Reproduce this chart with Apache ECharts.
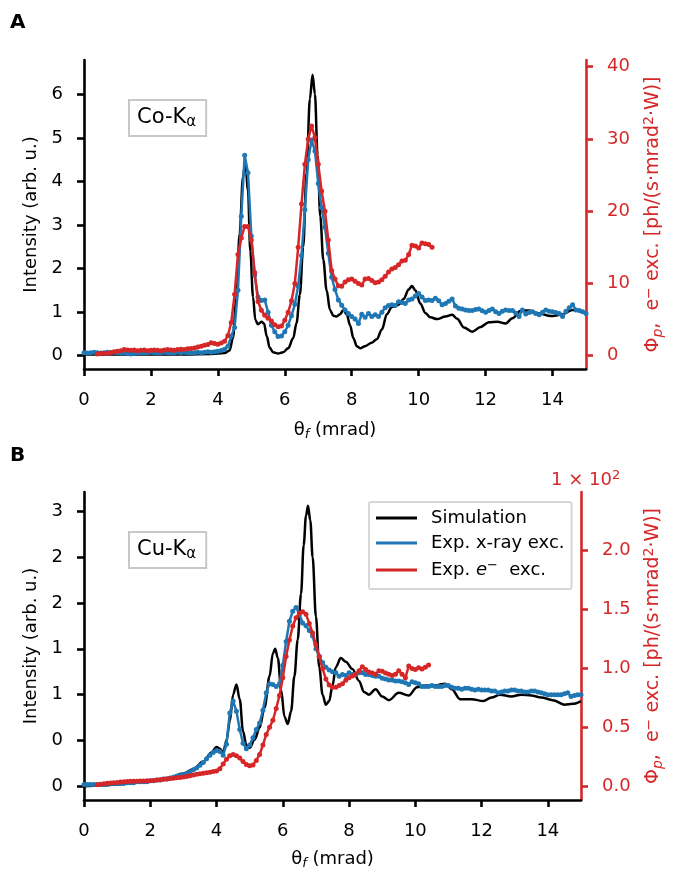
<!DOCTYPE html>
<html>
<head>
<meta charset="utf-8">
<script src="https://cdn.jsdelivr.net/npm/echarts@6/dist/echarts.min.js"></script>
<style>
  html, body { margin: 0; padding: 0; background: #ffffff; }
  #chart { width: 673px; height: 871px; }
</style>
</head>
<body>
<div id="chart"></div>
<script>
// ---------- data ----------
// angular grid of the measured profiles (mrad)
const sampleStep = 0.1;
const xrayStart = 0.0;     // first sample of the x-ray excited profiles
const elecStart = 0.4;     // first sample of the electron excited profiles

// Panel A, Co-Kα
const coSimulation = [
  [0, 0.03], [1, 0.03], [2, 0.03], [3, 0.03], [3.8, 0.04], [4.2, 0.06], [4.35, 0.12], [4.45, 0.4],
  [4.55, 1.3], [4.65, 2.8], [4.75, 4.1], [4.82, 4.45], [4.9, 3.8], [4.97, 2.4], [5.05, 1.35],
  [5.12, 0.82], [5.2, 0.72], [5.3, 0.78], [5.38, 0.74], [5.46, 0.45], [5.55, 0.18], [5.65, 0.08],
  [5.8, 0.05], [5.95, 0.08], [6.1, 0.17], [6.25, 0.4], [6.35, 0.75], [6.45, 1.4], [6.55, 2.5],
  [6.65, 4.2], [6.75, 5.9], [6.83, 6.45], [6.9, 6.0], [6.98, 4.6], [7.06, 3.2], [7.15, 2.2],
  [7.25, 1.5], [7.35, 1.05], [7.45, 0.92], [7.55, 0.9], [7.65, 0.95], [7.75, 1.05], [7.85, 0.95],
  [7.95, 0.7], [8.05, 0.4], [8.15, 0.22], [8.25, 0.17], [8.4, 0.22], [8.6, 0.3], [8.75, 0.38],
  [8.9, 0.6], [9.05, 0.95], [9.2, 1.12], [9.4, 1.17], [9.55, 1.3], [9.7, 1.52], [9.8, 1.6],
  [9.9, 1.5], [10.05, 1.2], [10.2, 0.98], [10.35, 0.88], [10.55, 0.84], [10.8, 0.9], [11.0, 0.94],
  [11.15, 0.85], [11.35, 0.65], [11.6, 0.55], [11.85, 0.66], [12.1, 0.77], [12.35, 0.78],
  [12.6, 0.74], [12.8, 0.86], [13.05, 1.03], [13.3, 1.04], [13.6, 0.97], [13.95, 0.91],
  [14.25, 0.94], [14.6, 1.05], [15, 0.97]
];
const coXray = [
  0.07, 0.06, 0.07, 0.08, 0.07, 0.06, 0.07, 0.08, 0.07, 0.08,
  0.07, 0.06, 0.07, 0.05, 0.04, 0.05, 0.06, 0.07, 0.06, 0.07,
  0.08, 0.07, 0.06, 0.07, 0.08, 0.07, 0.06, 0.07, 0.08, 0.07,
  0.08, 0.07, 0.06, 0.07, 0.08, 0.07, 0.08, 0.09, 0.08, 0.09,
  0.10, 0.12, 0.15, 0.22, 0.45, 0.65, 1.5, 3.2, 4.6, 4.2,
  2.75, 1.85, 1.35, 1.27, 1.28, 1.0, 0.7, 0.55, 0.44, 0.45,
  0.55, 0.7, 0.92, 1.18, 1.6, 2.3, 3.35, 4.5, 4.95, 4.7,
  3.95, 3.4, 2.95, 2.35, 1.8, 1.52, 1.28, 1.16, 1.05, 0.97,
  0.9, 0.84, 0.74, 0.95, 0.88, 0.97, 0.9, 0.94, 0.9, 1.0,
  1.1, 1.15, 1.17, 1.15, 1.24, 1.22, 1.2, 1.28, 1.3, 1.37,
  1.43, 1.35, 1.27, 1.28, 1.27, 1.32, 1.26, 1.17, 1.2, 1.25,
  1.3, 1.14, 1.09, 1.07, 1.05, 1.04, 1.04, 1.06, 1.07, 1.03,
  1.0, 1.04, 1.07, 1.01, 0.97, 1.02, 1.05, 1.04, 1.04, 0.98,
  0.9, 1.05, 0.96, 0.99, 1.01, 0.97, 0.94, 1.0, 1.05, 1.02,
  1.01, 0.99, 0.97, 0.9, 1.02, 1.1, 1.17, 1.05, 1.04, 1.01,
  0.97
];
const coElectron = [
  0.25, 0.3, 0.35, 0.3, 0.45, 0.55,
  0.6, 0.7, 0.85, 0.8, 0.75, 0.8, 0.7, 0.75, 0.8, 0.7,
  0.75, 0.8, 0.75, 0.7, 0.8, 0.85, 0.8, 0.75, 0.85, 0.9,
  0.85, 0.95, 1.0, 1.05, 1.2, 1.3, 1.45, 1.55, 1.8, 1.7,
  1.6, 1.75, 2.0, 2.8, 4.6, 8.5, 14.0, 16.3, 17.9, 17.9,
  16.0, 11.5, 7.5, 6.3, 5.6, 5.2, 4.8, 4.3, 4.0, 4.1,
  4.9, 6.0, 7.6, 10.0, 15.0, 21.0, 26.5, 30.0, 31.8, 30.2,
  26.5, 22.8, 20.0, 16.0, 11.8, 10.6, 9.7, 9.6, 10.2, 10.5,
  10.6, 10.3, 10.0, 9.8, 10.6, 10.7, 10.4, 10.1, 10.2, 10.5,
  11.0, 11.6, 12.0, 12.2, 12.6, 13.1, 13.2, 14.0, 15.3, 15.2,
  14.9, 15.6, 15.5, 15.4, 15.0
];

// Panel B, Cu-Kα
const cuSimulation = [
  [0, 0.0], [0.5, 0.01], [1, 0.02], [1.5, 0.04], [2, 0.06], [2.5, 0.09], [3, 0.14], [3.3, 0.19],
  [3.6, 0.27], [3.85, 0.37], [4.0, 0.43], [4.1, 0.41], [4.2, 0.37], [4.3, 0.5], [4.4, 0.71],
  [4.5, 1.0], [4.6, 1.11], [4.7, 0.95], [4.8, 0.6], [4.9, 0.45], [5.0, 0.42], [5.15, 0.51],
  [5.3, 0.64], [5.45, 0.86], [5.6, 1.2], [5.7, 1.45], [5.77, 1.5], [5.85, 1.4], [5.95, 1.05],
  [6.05, 0.76], [6.15, 0.68], [6.25, 0.82], [6.35, 1.2], [6.45, 1.6], [6.55, 2.1], [6.63, 2.63],
  [6.7, 2.95], [6.76, 3.06], [6.83, 2.9], [6.9, 2.5], [7.0, 1.85], [7.1, 1.3], [7.2, 1.0],
  [7.3, 0.89], [7.4, 0.93], [7.5, 1.1], [7.6, 1.3], [7.75, 1.4], [7.9, 1.36], [8.1, 1.28],
  [8.3, 1.15], [8.45, 1.03], [8.6, 1.0], [8.8, 1.06], [9.0, 0.98], [9.2, 0.94], [9.5, 1.02],
  [9.8, 0.99], [10.05, 1.08], [10.3, 1.1], [10.6, 1.1], [10.9, 1.12], [11.1, 1.06], [11.35, 0.95],
  [11.7, 0.95], [12.05, 0.93], [12.3, 0.97], [12.55, 1.0], [12.9, 0.98], [13.2, 1.0], [13.5, 0.99],
  [13.8, 0.97], [14.15, 0.94], [14.5, 0.89], [14.75, 0.9], [15, 0.93]
];
const cuXray = [
  0.02, 0.02, 0.02, 0.02, 0.02, 0.02, 0.02, 0.02, 0.03, 0.03,
  0.03, 0.03, 0.03, 0.04, 0.04, 0.04, 0.05, 0.05, 0.05, 0.05,
  0.06, 0.06, 0.07, 0.07, 0.08, 0.08, 0.09, 0.1, 0.11, 0.12,
  0.13, 0.14, 0.16, 0.18, 0.2, 0.23, 0.26, 0.3, 0.34, 0.37,
  0.39, 0.38, 0.34, 0.46, 0.8, 0.93, 0.82, 0.62, 0.47, 0.41,
  0.45, 0.53, 0.62, 0.69, 0.83, 1.02, 1.12, 1.11, 1.09, 1.12,
  1.32, 1.58, 1.8, 1.91, 1.95, 1.88, 1.78, 1.75, 1.7, 1.64,
  1.5, 1.42, 1.35, 1.3, 1.27, 1.25, 1.24, 1.2, 1.22, 1.21,
  1.24, 1.22, 1.22, 1.24, 1.24, 1.22, 1.22, 1.21, 1.2, 1.2,
  1.18, 1.17, 1.16, 1.16, 1.15, 1.15, 1.14, 1.13, 1.11, 1.14,
  1.13, 1.12, 1.09, 1.09, 1.09, 1.1, 1.09, 1.09, 1.09, 1.1,
  1.1, 1.08, 1.07, 1.07, 1.06, 1.07, 1.07, 1.06, 1.05, 1.06,
  1.05, 1.05, 1.05, 1.04, 1.04, 1.02, 1.03, 1.04, 1.04, 1.05,
  1.05, 1.04, 1.04, 1.03, 1.03, 1.04, 1.04, 1.03, 1.02, 1.01,
  1.0, 1.0, 1.0, 1.0, 1.0, 1.01, 1.02, 0.98, 0.99, 1.0,
  1.0
];
// electron excited flux in units of 1e2 ph/(s·mrad²·W)
const cuElectron = [
  0.014, 0.018, 0.022, 0.025, 0.028, 0.031,
  0.033, 0.036, 0.038, 0.04, 0.042, 0.043, 0.044, 0.045, 0.046, 0.047,
  0.048, 0.05, 0.053, 0.056, 0.06, 0.063, 0.066, 0.069, 0.072, 0.075,
  0.078, 0.084, 0.09, 0.096, 0.102, 0.106, 0.11, 0.115, 0.12, 0.125,
  0.13, 0.15, 0.19, 0.23, 0.26, 0.27, 0.26, 0.24, 0.21, 0.185,
  0.175, 0.18, 0.22, 0.27, 0.35, 0.44, 0.5, 0.56, 0.66, 0.77,
  0.92, 1.1, 1.24, 1.36, 1.43, 1.47, 1.48, 1.46, 1.38, 1.3,
  1.2, 1.1, 1.0, 0.91, 0.86, 0.84, 0.84, 0.855, 0.87, 0.9,
  0.92, 0.935, 0.95, 0.98, 1.014, 0.99, 0.97, 0.96, 0.95, 0.98,
  0.975, 0.96, 0.95, 0.94, 0.95, 0.98, 0.95, 0.92, 1.02, 1.0,
  0.99, 1.006, 0.995, 1.01, 1.028
];

// tick values and labels
const xTicks = [0, 2, 4, 6, 8, 10, 12, 14];
const coLeftTicks = [0, 1, 2, 3, 4, 5, 6];
const coRightTicks = [0, 10, 20, 30, 40];
const cuLeftTicks = [0, 0.5, 1, 1.5, 2, 2.5, 3];
const cuLeftTickLabels = ['0', '0', '1', '1', '2', '2', '3'];
const cuRightTicks = [0, 0.5, 1, 1.5, 2];
const cuRightTickLabels = ['0.0', '0.5', '1.0', '1.5', '2.0'];

const seriesNames = ['Simulation', 'Exp. x-ray exc.', 'Exp. e⁻ exc.'];

// ---------- styling ----------
const FONT = 'DejaVu Sans';
const BLACK = '#000000';
const BLUE = '#1f77b4';
const RED = '#d62728';
const FS = 18;
const SPINE = 2.6;
const LINE = 2.5;

function onGrid(values, start) {
  return values.map((v, i) => [Math.round((start + i * sampleStep) * 100) / 100, v]);
}

function labelFrom(ticks, labels) {
  return v => {
    const k = ticks.findIndex(t => Math.abs(t - v) < 1e-9);
    return k >= 0 ? labels[k] : '';
  };
}

const richBlack = {
  t: { fontSize: FS, fontFamily: FONT, color: BLACK, lineHeight: 22 },
  s: { fontSize: 13, fontFamily: FONT, fontStyle: 'italic', color: BLACK, lineHeight: 12, verticalAlign: 'bottom' }
};
const richRed = {
  t: { fontSize: 19, fontFamily: FONT, color: RED, lineHeight: 23 },
  s: { fontSize: 14, fontFamily: FONT, fontStyle: 'italic', color: RED, lineHeight: 13, verticalAlign: 'bottom' },
  sp: { fontSize: 14, fontFamily: FONT, color: RED, lineHeight: 13, verticalAlign: 'top' }
};

function xAxisFor(gridIndex, gap) {
  return {
    type: 'value', gridIndex, min: 0, max: 15,
    axisLine: { show: true, onZero: false, lineStyle: { color: BLACK, width: SPINE } },
    axisTick: { show: true, length: 7, customValues: xTicks, lineStyle: { color: BLACK, width: SPINE } },
    axisLabel: { customValues: xTicks, color: BLACK, fontSize: FS, fontFamily: FONT, margin: 22 },
    splitLine: { show: false },
    name: '{t|θ}{s|f}{t| (mrad)}', nameLocation: 'middle', nameGap: gap,
    nameTextStyle: { rich: richBlack }
  };
}

function leftAxis(gridIndex, min, max, ticks, formatter) {
  return {
    type: 'value', gridIndex, position: 'left', min, max,
    axisLine: { show: true, onZero: false, lineStyle: { color: BLACK, width: SPINE } },
    axisTick: { show: true, length: 7, customValues: ticks, lineStyle: { color: BLACK, width: SPINE } },
    axisLabel: { customValues: ticks, formatter, color: BLACK, fontSize: FS, fontFamily: FONT, margin: 21 },
    splitLine: { show: false },
    name: '{t|Intensity (arb. u.)}', nameLocation: 'middle', nameRotate: 90, nameGap: 42,
    nameTextStyle: { rich: richBlack }
  };
}

function rightAxis(gridIndex, min, max, ticks, formatter, gap) {
  return {
    type: 'value', gridIndex, position: 'right', min, max,
    axisLine: { show: true, onZero: false, lineStyle: { color: RED, width: SPINE } },
    axisTick: { show: true, length: 7, customValues: ticks, lineStyle: { color: RED, width: SPINE } },
    axisLabel: { customValues: ticks, formatter, color: RED, fontSize: FS, fontFamily: FONT, margin: 21 },
    splitLine: { show: false },
    name: '{t|Φ}{s|p}{t|,  e}{sp|−}{t| exc. [ph/(s·mrad}{sp|2}{t|·W)]}',
    nameLocation: 'middle', nameRotate: 90, nameGap: gap,
    nameTextStyle: { rich: richRed }
  };
}

function simSeries(name, data, xi, yi) {
  return {
    name, type: 'line', xAxisIndex: xi, yAxisIndex: yi, data,
    smooth: 0.35, smoothMonotone: 'x', showSymbol: false, symbol: 'none',
    lineStyle: { color: BLACK, width: LINE }, itemStyle: { color: BLACK }, z: 2
  };
}
function measSeries(name, data, xi, yi, color, z) {
  return {
    name, type: 'line', xAxisIndex: xi, yAxisIndex: yi, data,
    symbol: 'circle', symbolSize: 5, showSymbol: true,
    lineStyle: { color, width: LINE }, itemStyle: { color, borderWidth: 0 }, z
  };
}

const chart = echarts.init(document.getElementById('chart'), null, { renderer: 'canvas' });

const option = {
  animation: false,
  backgroundColor: '#ffffff',
  textStyle: { fontFamily: FONT },
  grid: [
    { left: 84, top: 60, width: 503, height: 309, containLabel: false },
    { left: 84, top: 492, width: 503, height: 309, containLabel: false }
  ],
  xAxis: [xAxisFor(0, 50), xAxisFor(1, 48)],
  yAxis: [
    leftAxis(0, -0.305, 6.787, coLeftTicks, v => String(v)),
    rightAxis(0, -1.84, 40.93, coRightTicks, v => String(v), 56),
    leftAxis(1, -0.149, 3.21, cuLeftTicks, labelFrom(cuLeftTicks, cuLeftTickLabels)),
    rightAxis(1, -0.116, 2.496, cuRightTicks, labelFrom(cuRightTicks, cuRightTickLabels), 61)
  ],
  legend: {
    data: seriesNames,
    selectedMode: false,
    orient: 'vertical',
    left: 369, top: 502,
    padding: [7, 7, 10, 7],
    itemGap: 7,
    itemWidth: 41, itemHeight: 3,
    icon: 'rect',
    backgroundColor: '#ffffff',
    borderColor: '#d6d6d6', borderWidth: 2, borderRadius: 2,
    textStyle: {
      fontSize: FS, fontFamily: FONT, color: BLACK, padding: [0, 0, 0, 9],
      rich: {
        t: { fontSize: FS, fontFamily: FONT, color: BLACK, lineHeight: 22 },
        i: { fontSize: FS, fontFamily: FONT, fontStyle: 'italic', color: BLACK, lineHeight: 22 },
        sp: { fontSize: 13, fontFamily: FONT, color: BLACK, lineHeight: 12, verticalAlign: 'top' }
      }
    },
    formatter: name => name === seriesNames[2]
      ? '{t|Exp. }{i|e}{sp|−}{t|  exc.}'
      : '{t|' + name + '}'
  },
  series: [
    simSeries(seriesNames[0], coSimulation, 0, 0),
    measSeries(seriesNames[1], onGrid(coXray, xrayStart), 0, 0, BLUE, 3),
    measSeries(seriesNames[2], onGrid(coElectron, elecStart), 0, 1, RED, 4),
    simSeries(seriesNames[0], cuSimulation, 1, 2),
    measSeries(seriesNames[1], onGrid(cuXray, xrayStart), 1, 2, BLUE, 3),
    measSeries(seriesNames[2], onGrid(cuElectron, elecStart), 1, 3, RED, 4)
  ],
  graphic: [
    { type: 'text', left: 10, top: 13, style: { text: 'A', fontSize: 20, fontWeight: 'bold', fontFamily: FONT, fill: BLACK } },
    { type: 'text', left: 10, top: 446, style: { text: 'B', fontSize: 20, fontWeight: 'bold', fontFamily: FONT, fill: BLACK } },
    {
      type: 'text', left: 128, top: 99, z: 10,
      style: {
        text: '{m|Co-K}{s|α}',
        rich: {
          m: { fontSize: 21, fontFamily: FONT, fill: BLACK, lineHeight: 24 },
          s: { fontSize: 15, fontFamily: FONT, fill: BLACK, lineHeight: 15, verticalAlign: 'bottom' }
        },
        backgroundColor: '#ffffff', borderColor: '#c8c8c8', borderWidth: 2,
        padding: [5, 9, 5, 7]
      }
    },
    {
      type: 'text', left: 128, top: 531, z: 10,
      style: {
        text: '{m|Cu-K}{s|α}',
        rich: {
          m: { fontSize: 21, fontFamily: FONT, fill: BLACK, lineHeight: 24 },
          s: { fontSize: 15, fontFamily: FONT, fill: BLACK, lineHeight: 15, verticalAlign: 'bottom' }
        },
        backgroundColor: '#ffffff', borderColor: '#c8c8c8', borderWidth: 2,
        padding: [5, 9, 5, 7]
      }
    },
    {
      type: 'text', left: 551, top: 469,
      style: {
        text: '{n|1 × 10}{p|2}',
        rich: {
          n: { fontSize: FS, fontFamily: FONT, fill: RED, lineHeight: 22 },
          p: { fontSize: 13, fontFamily: FONT, fill: RED, lineHeight: 12, verticalAlign: 'top' }
        }
      }
    }
  ]
};

chart.setOption(option);
</script>
</body>
</html>
